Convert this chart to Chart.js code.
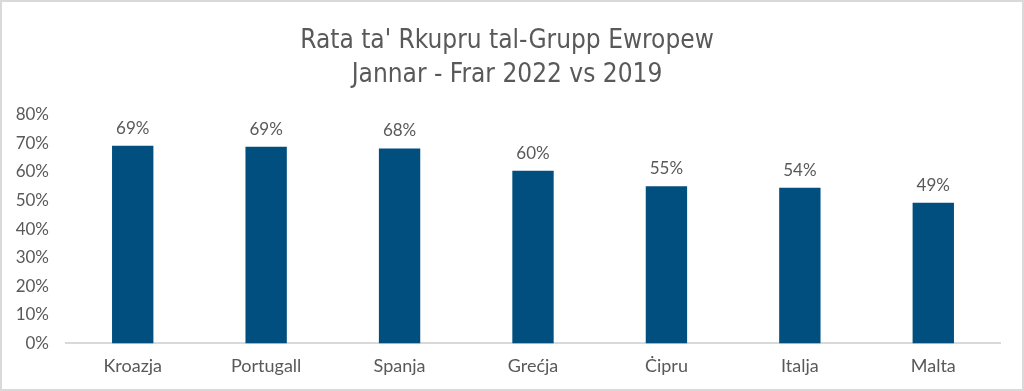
<!DOCTYPE html>
<html>
<head>
<meta charset="utf-8">
<script src="https://cdn.jsdelivr.net/npm/chart.js@4"></script>
<style>
  html, body { margin: 0; padding: 0; background: #ffffff; }
  #wrap { width: 1020px; height: 387px; border: 2px solid #d9d9d9; }
</style>
</head>
<body>
<div id="wrap"><canvas id="chart" width="1020" height="387"></canvas></div>
<script>
// Data
const countries = ['Kroazja', 'Portugall', 'Spanja', 'Grećja', 'Ċipru', 'Italja', 'Malta'];
const recovery = [69.1, 68.8, 68.2, 60.4, 55.0, 54.4, 49.2];
const titleLines = ["Rata ta' Rkupru tal-Grupp Ewropew", 'Jannar - Frar 2022 vs 2019'];

const GREY = '#595959';
const TICK_FONT = 'Lato, "Open Sans", sans-serif';

// small inline plugin for the value labels above each bar
const valueLabels = {
    id: 'valueLabels',
    afterDatasetsDraw(chart) {
        const ctx = chart.ctx;
        const meta = chart.getDatasetMeta(0);
        ctx.save();
        ctx.font = '17px ' + TICK_FONT;
        ctx.fillStyle = GREY;
        ctx.textAlign = 'center';
        ctx.textBaseline = 'bottom';
        meta.data.forEach((bar, i) => {
            ctx.fillText(Math.round(recovery[i]) + '%', bar.x, bar.y - 9);
        });
        ctx.restore();
    }
};

new Chart(document.getElementById('chart'), {
    type: 'bar',
    data: {
        labels: countries,
        datasets: [{
            data: recovery,
            backgroundColor: '#004f7f',
            categoryPercentage: 0.31,
            barPercentage: 1.0
        }]
    },
    options: {
        responsive: false,
        animation: false,
        layout: { padding: { left: 12, right: 22, top: 14, bottom: 8 } },
        plugins: {
            legend: { display: false },
            tooltip: { enabled: false },
            title: {
                display: true,
                text: titleLines,
                color: GREY,
                font: { family: '"DejaVu Sans Condensed", sans-serif', size: 26, weight: 'normal', lineHeight: 1.32 },
                padding: { top: 8, bottom: 22 }
            }
        },
        scales: {
            y: {
                min: 0,
                max: 80,
                ticks: {
                    stepSize: 10,
                    color: GREY,
                    padding: 9,
                    font: { family: TICK_FONT, size: 17 },
                    callback: v => v + '%'
                },
                grid: { display: false },
                border: { display: false },
                afterFit(scale) { scale.width = 52; }
            },
            x: {
                ticks: {
                    color: GREY,
                    padding: 4,
                    font: { family: TICK_FONT, size: 18 }
                },
                grid: { display: false },
                border: { display: true, color: '#d9d9d9', width: 2 }
            }
        }
    },
    plugins: [valueLabels]
});
</script>
</body>
</html>
